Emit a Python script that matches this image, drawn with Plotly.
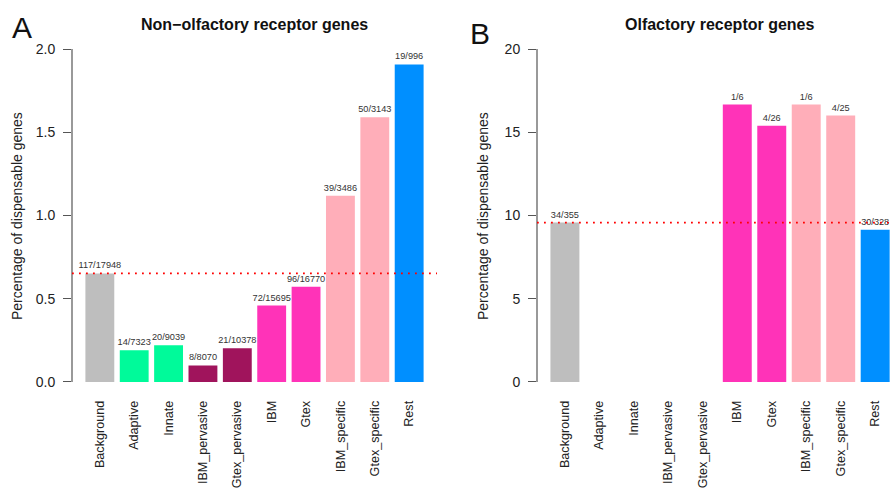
import plotly.graph_objects as go

# Gene categories (shared by both panels)
categories = ["Background", "Adaptive", "Innate", "IBM_pervasive", "Gtex_pervasive",
              "IBM", "Gtex", "IBM_specific", "Gtex_specific", "Rest"]

# Non-olfactory receptor genes: dispensable / total
hits_a = [117, 14, 20, 8, 21, 72, 96, 39, 50, 19]
totals_a = [17948, 7323, 9039, 8070, 10378, 15695, 16770, 3486, 3143, 996]

# Olfactory receptor genes: dispensable / total (None = no genes in group)
hits_b = [34, None, None, None, None, 1, 4, 1, 4, 30]
totals_b = [355, None, None, None, None, 6, 26, 6, 25, 328]

bar_colors = ["#BEBEBE", "#00FA9A", "#00FA9A", "#A0145C", "#A0145C",
              "#FF33B8", "#FF33B8", "#FFAEB9", "#FFAEB9", "#008FFF"]

yticks_a = [0.0, 0.5, 1.0, 1.5, 2.0]
yticks_b = [0, 5, 10, 15, 20]


def pct(h, t):
    return [None if (a is None or b is None) else 100.0 * a / b for a, b in zip(h, t)]


def labels(h, t):
    return ["" if (a is None or b is None) else f"{a}/{b}" for a, b in zip(h, t)]


pct_a = pct(hits_a, totals_a)
pct_b = pct(hits_b, totals_b)

FONT = "Liberation Sans, Arial, Helvetica, sans-serif"
AXIS_COL = "#555555"

fig = go.Figure()

for pvals, h, t, xa, ya in [(pct_a, hits_a, totals_a, "x", "y"),
                            (pct_b, hits_b, totals_b, "x2", "y2")]:
    fig.add_trace(go.Bar(
        x=categories, y=pvals, xaxis=xa, yaxis=ya,
        marker=dict(color=bar_colors, line=dict(width=0)),
        text=labels(h, t), textposition="outside",
        textfont=dict(family=FONT, size=9.2, color="#333333"),
        constraintext="none", cliponaxis=False,
        showlegend=False, hoverinfo="skip",
    ))

ydom = [1 - 395.3 / 494, 1 - 35.7 / 494]

common_x = dict(type="category", categoryorder="array", categoryarray=categories,
                tickangle=-90, showline=False, showgrid=False, zeroline=False,
                ticks="", ticklabelstandoff=2, automargin=False,
                tickfont=dict(family=FONT, size=12.6, color="#222222"))
common_y = dict(showline=False, showgrid=False, zeroline=False, automargin=False,
                ticks="outside", ticklen=8, tickwidth=1, tickcolor=AXIS_COL,
                ticklabelstandoff=5,
                tickfont=dict(family=FONT, size=14, color="#222222"))

fig.update_layout(
    width=890, height=494,
    margin=dict(l=0, r=0, t=0, b=0, autoexpand=False),
    paper_bgcolor="white", plot_bgcolor="white",
    bargap=0.16,
    xaxis=dict(domain=[72 / 890, 437 / 890], range=[-0.81, 9.81], anchor="y", **common_x),
    yaxis=dict(domain=ydom, range=[-0.08, 2.08], anchor="x",
               tickvals=yticks_a, tickformat=".1f", **common_y),
    xaxis2=dict(domain=[537 / 890, 1.0], range=[-0.81, 9.43], anchor="y2", **common_x),
    yaxis2=dict(domain=ydom, range=[-0.8, 20.8], anchor="x2",
                tickvals=yticks_b, tickformat="d", **common_y),
)

# y axis lines spanning only the tick range
for xref, yref, ticks in [("x domain", "y", yticks_a), ("x2 domain", "y2", yticks_b)]:
    fig.add_shape(type="line", xref=xref, yref=yref, x0=0, x1=0,
                  y0=ticks[0], y1=ticks[-1], line=dict(color=AXIS_COL, width=1.2))

# reference line at the background percentage
for xref, yref, base in [("x domain", "y", pct_a[0]), ("x2 domain", "y2", pct_b[0])]:
    fig.add_shape(type="line", xref=xref, yref=yref, x0=0, x1=1, y0=base, y1=base,
                  line=dict(color="#FF0000", width=1.8, dash="1.8px,5.2px"))

# panel titles, panel letters and y-axis titles
annots = [
    dict(text="<b>Non−olfactory receptor genes</b>", x=254.5, y=25, size=16),
    dict(text="<b>Olfactory receptor genes</b>", x=720, y=25, size=16),
    dict(text="A", x=22, y=27, size=30),
    dict(text="B", x=480, y=34, size=30),
]
for a in annots:
    fig.add_annotation(text=a["text"], xref="paper", yref="paper",
                       x=a["x"] / 890, y=1 - a["y"] / 494,
                       xanchor="center", yanchor="middle", showarrow=False,
                       font=dict(family=FONT, size=a["size"], color="#111111"))

for xc in [17, 483]:
    fig.add_annotation(text="Percentage of dispensable genes", xref="paper", yref="paper",
                       x=xc / 890, y=1 - 216 / 494, textangle=-90,
                       xanchor="center", yanchor="middle", showarrow=False,
                       font=dict(family=FONT, size=14, color="#222222"))

fig.write_html("out.html")
